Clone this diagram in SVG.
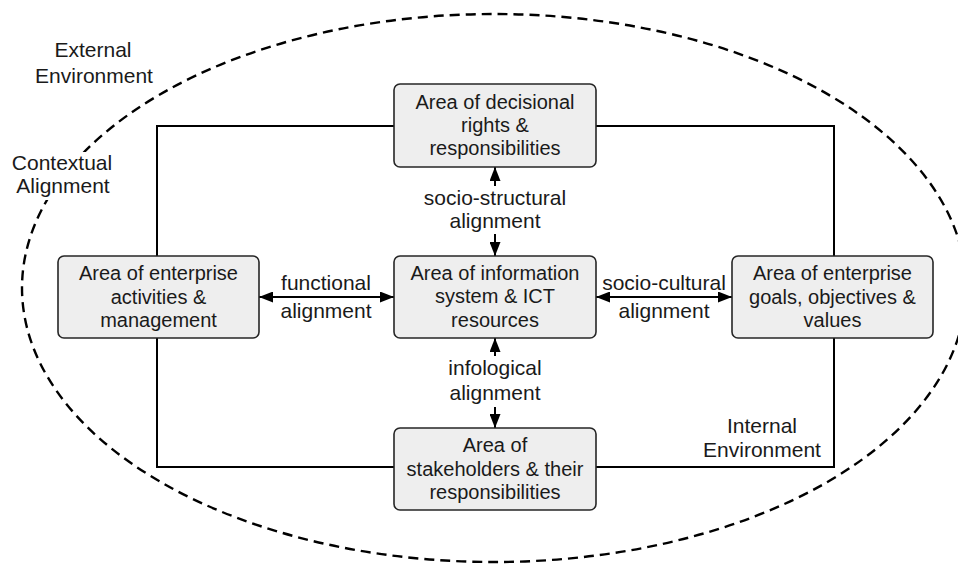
<svg xmlns="http://www.w3.org/2000/svg" width="958" height="565" viewBox="0 0 958 565">
<style>
  text { font-family: "Liberation Sans", Arial, sans-serif; fill: #1a1a1a; text-anchor: middle; }
  .box { fill: #eeeeee; stroke: #262626; stroke-width: 1.6; }
  .bt { font-size: 20px; }
  .lbl { font-size: 21px; }
  .conn { stroke: #000; stroke-width: 2; fill: none; marker-start: url(#ah); marker-end: url(#ah); }
  .frame { stroke: #000; stroke-width: 2; fill: none; }
  .env { stroke: #000; stroke-width: 2.4; fill: none; stroke-dasharray: 10 6; }
  .bg { fill: #ffffff; }
</style>
<defs>
  <marker id="ah" markerUnits="userSpaceOnUse" markerWidth="15" markerHeight="11" refX="14" refY="5.5" orient="auto-start-reverse">
    <path d="M0,0 L14,5.5 L0,11 Z" fill="#000"/>
  </marker>
</defs>
<rect width="958" height="565" fill="#ffffff"/>

<g id="external-environment">
  <ellipse class="env" cx="494" cy="288" rx="472" ry="274"/>
  <text class="lbl" x="93" y="57">External</text>
  <text class="lbl" x="94" y="83">Environment</text>
</g>

<g id="contextual-alignment">
  <rect class="bg" x="8" y="152" width="110" height="48"/>
  <text class="lbl" x="62" y="170">Contextual</text>
  <text class="lbl" x="63" y="193">Alignment</text>
</g>

<g id="internal-environment">
  <rect class="frame" x="157" y="126" width="677" height="341"/>
  <text class="lbl" x="762" y="433">Internal</text>
  <text class="lbl" x="762" y="457">Environment</text>
</g>

<g id="connectors">
  <g id="functional-alignment">
    <line class="conn" x1="259" y1="297" x2="394" y2="297"/>
    <text class="lbl" x="326" y="290">functional</text>
    <text class="lbl" x="326" y="318">alignment</text>
  </g>
  <g id="socio-cultural-alignment">
    <line class="conn" x1="596" y1="297" x2="732" y2="297"/>
    <text class="lbl" x="664" y="290">socio-cultural</text>
    <text class="lbl" x="664" y="318">alignment</text>
  </g>
  <g id="socio-structural-alignment">
    <line class="conn" x1="495" y1="167" x2="495" y2="256"/>
    <rect class="bg" x="418" y="186" width="154" height="48"/>
    <text class="lbl" x="495" y="205">socio-structural</text>
    <text class="lbl" x="495" y="228">alignment</text>
  </g>
  <g id="infological-alignment">
    <line class="conn" x1="495" y1="338" x2="495" y2="428"/>
    <rect class="bg" x="440" y="356" width="110" height="51"/>
    <text class="lbl" x="495" y="375">infological</text>
    <text class="lbl" x="495" y="400">alignment</text>
  </g>
</g>

<g id="node-decisional">
  <rect class="box" x="394" y="84" width="202" height="83" rx="6"/>
  <text class="bt" x="495" y="109">Area of decisional</text>
  <text class="bt" x="495" y="132">rights &amp;</text>
  <text class="bt" x="495" y="155">responsibilities</text>
</g>

<g id="node-information-system">
  <rect class="box" x="394" y="256" width="202" height="82" rx="6"/>
  <text class="bt" x="495" y="280">Area of information</text>
  <text class="bt" x="495" y="303">system &amp; ICT</text>
  <text class="bt" x="495" y="327">resources</text>
</g>

<g id="node-activities">
  <rect class="box" x="58" y="256" width="201" height="82" rx="6"/>
  <text class="bt" x="158.5" y="280">Area of enterprise</text>
  <text class="bt" x="158.5" y="304">activities &amp;</text>
  <text class="bt" x="158.5" y="327">management</text>
</g>

<g id="node-goals">
  <rect class="box" x="732" y="256" width="201" height="82" rx="6"/>
  <text class="bt" x="832.5" y="280">Area of enterprise</text>
  <text class="bt" x="832.5" y="304">goals, objectives &amp;</text>
  <text class="bt" x="832.5" y="327">values</text>
</g>

<g id="node-stakeholders">
  <rect class="box" x="394" y="428" width="202" height="82" rx="6"/>
  <text class="bt" x="495" y="452">Area of</text>
  <text class="bt" x="495" y="476">stakeholders &amp; their</text>
  <text class="bt" x="495" y="499">responsibilities</text>
</g>
</svg>
